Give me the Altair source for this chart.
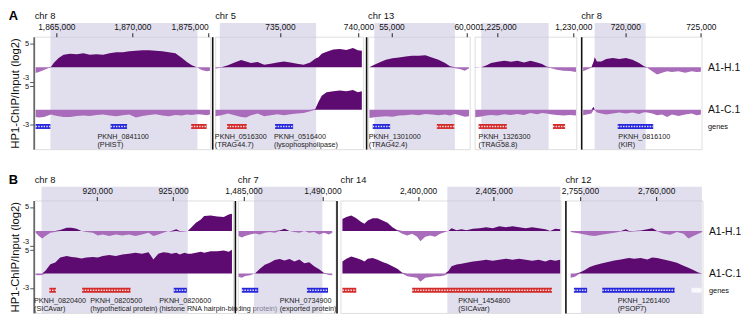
import altair as alt
import pandas as pd

FONT = "Liberation Sans"
DARK = "#5d0b70"
LIGHT = "#a86cba"
SHADE = "#c9c5e0"      # drawn at 0.55 opacity -> looks like #e1dfee on white
SHADE_OPACITY = 0.55
BLUE = "#2626dc"
RED = "#d42a2a"
PALE = "#f7f6fb"

# ---- layout constants (log2 units, 4.9 px per unit) ----
PX_PER_UNIT = 4.9
PLOT_H = 114
Y_MAX = PLOT_H / PX_PER_UNIT
H_BASE = 83 / PX_PER_UNIT
C_BASE = 40 / PX_PER_UNIT
GENE_Y = 23 / PX_PER_UNIT
LAB1_Y = 12 / PX_PER_UNIT
LAB2_Y = 4 / PX_PER_UNIT
SHADE_TOP = 128 / PX_PER_UNIT

# ================= DATA =================
# ---- Panel A, chr 8 (PHIST) ----
A1_POS = [1863636, 1863853, 1864178, 1864502, 1864654, 1864827, 1865151, 1865476, 1865909, 1866342,
          1866775, 1867208, 1867641, 1868074, 1868507, 1868939, 1869372, 1869805, 1870238, 1870671,
          1871104, 1871537, 1871970, 1872403, 1872836, 1873268, 1873593, 1873918, 1874243, 1874567,
          1874892, 1875109]
A1_H = [-1.16, -0.95, -0.55, -0.15, 0.1, 0.9, 1.9, 2.6, 2.8, 2.7, 2.9, 2.6, 2.7, 2.6, 2.9, 3.1, 3.1, 3.3,
        3.4, 3.5, 3.5, 3.4, 3.3, 3.1, 2.9, 1.9, 1.1, 0.4, 0.0, -0.55, -0.8, -0.7]
A1_C = [-1.5, -1.6, -1.5, -1.15, -1.0, -1.15, -1.35, -1.5, -1.5, -1.3, -1.2, -1.3, -1.1, -1.0, -1.2,
        -1.35, -1.15, -1.0, -1.6, -1.3, -1.1, -0.95, -1.2, -1.35, -1.1, -1.2, -1.0, -1.1, -0.95, -1.0,
        -1.15, -1.0]
A1_GENES = [(1863636, 1864610, "+"), (1868571, 1869654, "+"), (1873874, 1874892, "-")]
A1_LABELS = [("PKNH_0841100", "(PHIST)", 1867706)]

# ---- Panel A, chr 5 ----
A2_POS = [730895, 731272, 731690, 732109, 732528, 732842, 733156, 733575, 733994, 734413, 734831,
          735250, 735669, 736088, 736507, 736925, 737240, 737449, 737658, 737972, 738391, 738810,
          739229, 739648, 739962, 740213]
A2_H = [-0.25, -0.1, 0.4, 1.0, 1.5, 1.2, 0.9, 1.1, 0.55, 0.75, 1.0, 1.2, 1.0, 0.75, 0.55, 1.0, 1.75,
        2.1, 2.8, 3.2, 3.7, 3.8, 3.6, 4.0, 3.5, 3.4]
A2_C = [-1.35, -1.15, -0.8, -1.15, -1.5, -1.6, -1.15, -0.8, -1.35, -1.15, -0.95, -1.15, -0.95, -0.8,
        -0.7, -0.3, 0.1, 1.6, 2.9, 3.6, 3.8, 3.95, 3.8, 4.1, 3.6, 3.8]
A2_GENES = [(731628, 732884, "-"), (734685, 735837, "+")]
A2_LABELS = [("PKNH_0516300", "(TRAG44.7)", 730853), ("PKNH_0516400", "(lysophospholipase)", 734622)]

# ---- Panel A, chr 13 (first region) ----
A3_POS = [53535, 53862, 54190, 54627, 55063, 55500, 55937, 56374, 56810, 57247, 57684, 58121, 58558,
          58885, 59213, 59541, 59868, 60152]
A3_H = [0.0, 0.5, 1.0, 1.55, 1.85, 2.0, 2.25, 2.4, 2.4, 2.5, 2.0, 1.55, 0.9, 0.2, -0.2, -0.35, -0.7, -0.2]
A3_C = [-1.7, -1.55, -1.45, -1.35, -1.45, -1.2, -1.15, -1.0, -1.15, -0.9, -1.0, -1.15, -1.0, -1.2,
        -0.9, -1.15, -1.45, -1.35]
A3_GENES = [(53753, 54911, "+"), (58012, 59169, "-")]
A3_LABELS = [("PKNH_1301000", "(TRAG42.4)", 53491)]

# ---- Panel A, chr 13 (second region) ----
A4_POS = [1223524, 1223915, 1224241, 1224567, 1225002, 1225437, 1225871, 1226306, 1226740, 1227175,
          1227610, 1227935, 1228218, 1228479, 1228914, 1229348, 1229783, 1230174]
A4_H = [-0.1, 0.0, 0.35, 0.9, 1.15, 1.35, 1.15, 1.35, 1.0, 1.35, 1.0, 0.7, 0.15, -0.15, -0.5, -0.7,
        -0.75, -1.0]
A4_C = [-1.55, -1.4, -1.2, -1.1, -1.2, -0.95, -1.1, -0.9, -1.1, -0.7, -0.95, -0.7, -0.8, -0.95, -1.1,
        -1.2, -1.1, -1.2]
A4_GENES = [(1223742, 1225610, "-"), (1228653, 1229457, "-")]
A4_LABELS = [("PKNH_1326300", "(TRAG58.8)", 1223742)]

# ---- Panel A, chr 8 (KIR) ----
A5_POS = [717213, 717430, 717757, 717909, 717974, 718127, 718410, 718736, 719171, 719606, 720042,
          720477, 720912, 721238, 721456, 721782, 722109, 722435, 722762, 723088, 723523, 723958,
          724394, 724720, 725003]
A5_H = [-0.8, -0.5, -0.1, 1.2, 2.1, 1.2, 1.2, 1.7, 1.9, 1.7, 1.9, 1.55, 0.9, 0.2, -0.1, -0.8, -1.5,
        -1.15, -0.8, -1.0, -0.8, -1.15, -0.8, -1.0, -0.9]
A5_C = [-1.15, -1.0, -0.8, 0.6, -0.1, -0.6, -0.8, -1.0, -0.8, -0.6, -0.8, -0.6, -0.9, -0.5, -0.6,
        -0.8, -1.15, -1.0, -1.5, -1.0, -1.3, -1.0, -0.8, -1.15, -1.0]
A5_GENES = [(719498, 721848, "+")]
A5_LABELS = [("PKNH_0816100", "(KIR)", 719541)]

# ---- Panel B, chr 8 ----
B1_POS = [915945, 916160, 916376, 916592, 916915, 917238, 917562, 917993, 918316, 918640, 918963,
          919287, 919718, 920041, 920365, 920796, 921227, 921658, 922089, 922521, 922952, 923383,
          923706, 924030, 924353, 924677, 924892, 925215, 925431, 925755, 925970, 926186, 926509,
          926833, 927048, 927479, 927911, 928342, 928665, 928881]
B1_H = [-0.35, -1.0, -1.55, -1.0, -0.35, -0.2, 0.2, 0.7, 0.7, 0.5, 0.0, -0.2, -0.35, -0.9, -0.7, -1.0,
        -0.7, -0.9, -0.7, -1.0, -0.7, -0.35, -1.0, -0.7, -0.35, 0.0, -0.2, 0.35, -0.2, -0.1, 0.0, 0.7,
        1.7, 2.4, 3.1, 3.2, 3.0, 2.9, 3.4, 3.6]
B1_C = [-0.3, -0.35, -0.3, 0.55, 1.9, 2.25, 3.3, 3.6, 3.4, 3.3, 3.1, 3.3, 3.4, 3.3, 3.6, 3.8, 3.6,
        3.95, 4.1, 4.3, 4.1, 4.4, 2.9, 4.1, 4.4, 4.3, 4.1, 4.3, 3.95, 4.3, 4.1, 4.1, 4.3, 4.5, 4.3, 4.6,
        4.6, 4.75, 4.5, 4.9]
B1_GENES = [(916850, 917282, "-"), (919006, 922197, "-"), (925043, 925906, "+")]
B1_LABELS = [("PKNH_0820400", "(SICAvar)", 915837), ("PKNH_0820500", "(hypothetical protein)", 919545),
             ("PKNH_0820600", "(histone RNA hairpin-binding protein)", 924095)]

# ---- Panel B, chr 7 ----
B2_POS = [1484685, 1484893, 1485102, 1485414, 1485727, 1486039, 1486351, 1486664, 1486976, 1487289,
          1487601, 1487914, 1488226, 1488539, 1488851, 1489164, 1489476, 1489788, 1490101, 1490413,
          1490622]
B2_H = [-1.0, -1.35, -1.0, -0.7, -0.5, -0.7, -0.35, -0.2, -0.35, 0.1, 0.5, 0.0, -0.2, -0.35, 0.0,
        -0.35, -0.2, -0.7, -0.35, -0.7, -0.35]
B2_C = [-0.7, -0.9, -0.5, -0.35, 0.0, 1.0, 1.8, 2.2, 2.8, 3.0, 2.7, 3.0, 2.5, 2.9, 2.1, 2.3, 1.5, 0.9,
        0.1, -0.3, -0.35]
B2_GENES = [(1484893, 1485935, "+"), (1489018, 1490351, "+")]
B2_LABELS = [("PKNH_0734900", "(exported protein)", 1487289)]

# ---- Panel B, chr 14 ----
B3_POS = [2394994, 2395255, 2395582, 2395908, 2396234, 2396452, 2396670, 2396996, 2397322, 2397649,
          2397975, 2398302, 2398628, 2398954, 2399281, 2399607, 2399934, 2400151, 2400478, 2400804,
          2401130, 2401457, 2401783, 2402001, 2402218, 2402545, 2402871, 2403198, 2403633, 2404068,
          2404503, 2404938, 2405374, 2405809, 2406244, 2406679, 2407114, 2407550, 2407985, 2408420,
          2408746, 2409073, 2409399]
B3_H = [2.5, 2.9, 3.2, 2.65, 1.85, 1.5, 2.2, 2.65, 2.65, 2.2, 1.7, 0.8, 0.15, -0.55, -0.9, -0.55, -1.2,
        -2.1, -1.2, -0.9, -1.2, -0.55, -0.2, 0.0, 0.6, 0.15, 0.35, 0.15, 0.5, 0.6, 0.8, 0.6, 1.0, 0.8,
        1.0, 0.8, 0.6, 0.8, 0.6, 0.35, -0.05, 0.5, 0.35]
B3_C = [2.5, 3.05, 3.5, 3.2, 2.85, 2.5, 3.05, 3.2, 2.85, 2.4, 2.0, 1.5, 1.0, 0.15, -0.55, -0.75, -0.9,
        -1.7, -0.9, -0.75, -0.55, -0.55, -0.35, 0.5, 1.5, 1.85, 2.0, 2.2, 2.5, 2.65, 2.85, 2.65, 2.85,
        3.05, 2.85, 3.05, 2.85, 2.65, 2.85, 2.5, 2.85, 2.65, 2.85]
B3_GENES = [(2394994, 2395908, "-"), (2399607, 2408855, "-")]
B3_LABELS = [("PKNH_1454800", "(SICAvar)", 2402654)]

# ---- Panel B, chr 12 ----
B4_POS = [2754394, 2754674, 2754997, 2755321, 2755644, 2755968, 2756399, 2756830, 2757261, 2757692,
          2758016, 2758231, 2758555, 2758986, 2759417, 2759741, 2760064, 2760495, 2760926, 2761358,
          2761789, 2762112, 2762436, 2762759, 2763018]
B4_H = [-0.2, -0.35, -0.5, -0.7, -0.9, -1.0, -0.75, -0.55, -0.35, -0.1, 0.35, -0.2, -0.1, 0.1, 0.35,
        0.6, -0.05, -0.55, -0.75, -0.2, -0.55, -1.55, -1.0, -0.55, -0.2]
B4_C = [-0.9, -0.7, 0.2, 0.7, 1.35, 1.7, 2.05, 2.4, 2.7, 2.9, 3.1, 3.2, 3.05, 3.2, 2.9, 3.3, 3.2, 2.9,
        2.6, 2.2, 1.6, 1.2, 0.7, 0.2, 0.0]
B4_GENES = [(2754609, 2755472, "+"), (2756463, 2761207, "+"), (2762328, 2762975, "o")]
B4_LABELS = [("PKNH_1261400", "(PSOP7)", 2757477)]

# region views: title, x-domain, tick values, highlighted window
PANELS_A = [
    dict(title="chr 8", domain=[1863571, 1875130], ticks=[1865000, 1870000, 1875000], shade=[1864610, 1874286],
         pos=A1_POS, h=A1_H, c=A1_C, genes=A1_GENES, labels=A1_LABELS, width=178, flush=5),
    dict(title="chr  5", domain=[730874, 740297], ticks=[735000, 740000], shade=[731167, 737302],
         pos=A2_POS, h=A2_H, c=A2_C, genes=A2_GENES, labels=A2_LABELS, width=150, flush=False, sep=3),
    dict(title="chr 13", domain=[53447, 60196], ticks=[55000, 60000], shade=[53862, 59213],
         pos=A3_POS, h=A3_H, c=A3_C, genes=A3_GENES, labels=A3_LABELS, width=103, flush=False, sep=2),
    dict(title="", domain=[1223481, 1230195], ticks=[1225000, 1230000], shade=[1223915, 1228370],
         pos=A4_POS, h=A4_H, c=A4_C, genes=A4_GENES, labels=A4_LABELS, width=103, flush=False, sep=None),
    dict(title="chr 8", domain=[717082, 725046], ticks=[720000, 725000], shade=[717974, 721347],
         pos=A5_POS, h=A5_H, c=A5_C, genes=A5_GENES, labels=A5_LABELS, width=122, flush=False, sep=0),
]
PANELS_B = [
    dict(title="chr 8", domain=[915880, 928945], ticks=[920000, 925000], shade=[916333, 925970],
         pos=B1_POS, h=B1_H, c=B1_C, genes=B1_GENES, labels=B1_LABELS, width=201, flush=False),
    dict(title="chr 7", domain=[1484643, 1490830], ticks=[1485000, 1490000], shade=[1485664, 1489997],
         pos=B2_POS, h=B2_H, c=B2_C, genes=B2_GENES, labels=B2_LABELS, width=99, flush=False, sep=3),
    dict(title="chr 14", domain=[2394864, 2409421], ticks=[2400000, 2405000], shade=[2401936, 2409421],
         pos=B3_POS, h=B3_H, c=B3_C, genes=B3_GENES, labels=B3_LABELS, width=223, flush=False, sep=4),
    dict(title="chr 12", domain=[2754049, 2763039], ticks=[2755000, 2760000], shade=[2755062, 2763000],
         pos=B4_POS, h=B4_H, c=B4_C, genes=B4_GENES, labels=B4_LABELS, width=139, flush=False, sep=0),
]

MID_MINUS3 = "datum.value > 13.5 && datum.value < 18"
MID_PLUS5 = "datum.value > 9 && datum.value < 13.5"


def panel(cfg, first=False, last=False):
    xs = alt.Scale(domain=cfg["domain"], nice=False, zero=False)
    ys = alt.Scale(domain=[0, Y_MAX], nice=False, zero=False)
    # in shared-axis panels other layers leave the axis undefined; in the last panel y axes are independent
    other_y = {"axis": None} if last else {}

    xaxis = alt.Axis(orient="top", values=cfg["ticks"], tickCount=10, format=",d", title=None, domain=False,
                     tickSize=4, tickColor="#222", tickWidth=1, labelFontSize=8.5, labelPadding=1,
                     labelColor="#111", labelFlush=cfg["flush"], labelOverlap=False, grid=False, zindex=1)
    if first:
        yaxis = alt.Axis(values=[H_BASE + 5, H_BASE - 3, C_BASE + 5, C_BASE - 3], tickCount=10,
                         labelExpr="datum.value > 13.5 ? (datum.value > 18 ? '5' : '-3') : (datum.value > 9 ? '5' : '-3')",
                         labelBaseline={"condition": {"test": MID_MINUS3, "value": "bottom"}, "value": "middle"},
                         labelOffset={"condition": {"test": MID_PLUS5, "value": 1.5}, "value": 0},
                         title="HP1-ChIP/Input (log2)", titleFontSize=11.4, titleFontWeight="normal",
                         titleColor="#111", titlePadding=2, labelFontSize=7.5, labelColor="#111",
                         labelPadding=1, labelOverlap=False, labelBound=False,
                         tickSize=4, tickColor="#555", domainColor="#555", domainWidth=1.5,
                         offset=1, grid=False, orient="left")
    elif cfg.get("sep") is not None:
        yaxis = alt.Axis(labels=False, ticks=False, title=None, domainColor="#111", domainWidth=1.6,
                         offset=cfg["sep"], grid=False, orient="left")
    else:
        yaxis = alt.Axis(labels=False, ticks=False, title=None, domain=False, grid=False, orient="left")

    shade_df = pd.DataFrame({"s0": [cfg["shade"][0]], "s1": [cfg["shade"][1]]})
    shade = alt.Chart(shade_df).transform_calculate(
        y0="0", y1=str(SHADE_TOP)
    ).mark_rect(color=SHADE, opacity=SHADE_OPACITY).encode(
        x=alt.X("s0:Q", scale=xs, axis=xaxis), x2="s1:Q",
        y=alt.Y("y0:Q", scale=ys, axis=yaxis), y2="y1:Q",
    )

    trk = pd.DataFrame({
        "pos": cfg["pos"] + cfg["pos"],
        "track": ["H"] * len(cfg["pos"]) + ["C"] * len(cfg["pos"]),
        "v": cfg["h"] + cfg["c"],
    })
    base = alt.Chart(trk).transform_calculate(
        b=f"datum.track == 'H' ? {H_BASE} : {C_BASE}"
    ).transform_calculate(
        up="datum.b + max(datum.v, 0)", dn="datum.b + min(datum.v, 0)"
    )
    light = base.mark_area(color=LIGHT).encode(
        x=alt.X("pos:Q", scale=xs),
        y=alt.Y("dn:Q", scale=ys, **other_y), y2="b:Q", detail="track:N",
    )
    dark = base.mark_area(color=DARK).encode(
        x=alt.X("pos:Q", scale=xs),
        y=alt.Y("up:Q", scale=ys, **other_y), y2="b:Q", detail="track:N",
    )

    if last:
        gy_axis = {"axis": alt.Axis(orient="right", values=[H_BASE, C_BASE, GENE_Y], tickCount=10,
                         labelExpr="datum.value > 12 ? 'A1-H.1' : (datum.value > 6 ? 'A1-C.1' : 'genes')",
                         labelFontSize={"condition": {"test": "datum.value < 6", "value": 7.5}, "value": 10.5},
                         labelColor="#111", labelPadding=6, labelOverlap=False, domain=False, ticks=False,
                         title=None, grid=False)}
    else:
        gy_axis = {}

    gdf = pd.DataFrame(cfg["genes"], columns=["start", "end", "strand"])
    gbase = alt.Chart(gdf).transform_calculate(gy=str(GENE_Y))
    gbar = gbase.mark_rule(strokeWidth=5, strokeCap="butt").encode(
        x=alt.X("start:Q", scale=xs), x2="end:Q",
        y=alt.Y("gy:Q", scale=ys, **gy_axis),
        color=alt.Color("strand:N", scale=alt.Scale(domain=["+", "-", "o"], range=[BLUE, RED, PALE]),
                        legend=None),
    )
    gchev = gbase.mark_rule(strokeWidth=1.4, strokeDash=[1.5, 1.2], strokeCap="butt", color="white",
                            opacity=0.85).encode(
        x=alt.X("start:Q", scale=xs), x2="end:Q",
        y=alt.Y("gy:Q", scale=ys, **other_y),
    )

    ldf = pd.DataFrame(cfg["labels"], columns=["name", "desc", "lp"])
    lbase = alt.Chart(ldf).transform_calculate(l1=str(LAB1_Y), l2=str(LAB2_Y))
    lab1 = lbase.mark_text(align="left", baseline="middle", fontSize=7.3, font=FONT, color="#222").encode(
        x=alt.X("lp:Q", scale=xs), y=alt.Y("l1:Q", scale=ys, **other_y), text="name:N")
    lab2 = lbase.mark_text(align="left", baseline="middle", fontSize=7.3, font=FONT, color="#222").encode(
        x=alt.X("lp:Q", scale=xs), y=alt.Y("l2:Q", scale=ys, **other_y), text="desc:N")

    ch = alt.layer(shade, light, dark, gbar, gchev, lab1, lab2).properties(
        width=cfg["width"], height=PLOT_H)
    if cfg["title"]:
        ch = ch.properties(title=alt.TitleParams(cfg["title"], anchor="start", frame="group", fontSize=9.5,
                                                 fontWeight="normal", font=FONT, color="#111", offset=2))
    if last:
        ch = ch.resolve_axis(y="independent")
    return ch


def row(panels, letter):
    charts = [panel(p, first=(i == 0), last=(i == len(panels) - 1)) for i, p in enumerate(panels)]
    return alt.hconcat(*charts, spacing=5, bounds="flush",
                       title=alt.TitleParams(letter, anchor="start", fontSize=13, fontWeight="bold",
                                             font=FONT, color="#000", dy=16))


chart = alt.vconcat(row(PANELS_A, "A"), row(PANELS_B, "B"), spacing=24).properties(
    padding={"left": 0, "top": 0, "right": 0, "bottom": 0}
).configure_view(stroke="transparent", strokeWidth=0).configure_axis(
    grid=False, labelFont=FONT, titleFont=FONT).configure(font=FONT)

chart.save("out.html", embed_options={"renderer": "svg", "actions": False})
